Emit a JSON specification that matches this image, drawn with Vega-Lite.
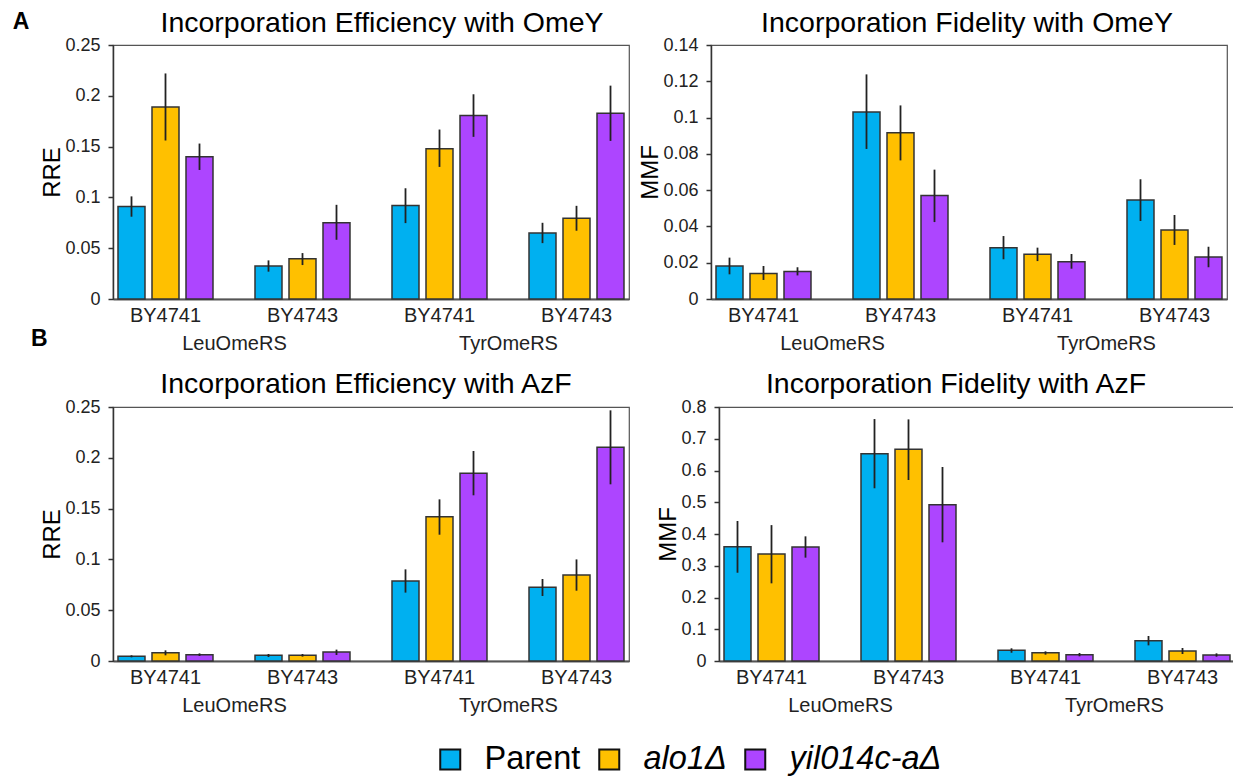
{
  "$schema": "https://vega.github.io/schema/vega-lite/v6.json",
  "background": "white",
  "padding": {"left": 12, "top": 7, "right": 0, "bottom": 0},
  "title": {"text": "A", "orient": "left", "anchor": "end", "angle": 0, "align": "right", "baseline": "top", "fontSize": 23, "fontWeight": "bold", "offset": -15, "dy": -34},
  "datasets": {
    "bars": [
      {"panel":"TL","grp":"LeuOmeRS|BY4741","series":"Parent","value":0.091,"lo":0.081,"hi":0.101},
      {"panel":"TL","grp":"LeuOmeRS|BY4741","series":"alo1Δ","value":0.189,"lo":0.156,"hi":0.222},
      {"panel":"TL","grp":"LeuOmeRS|BY4741","series":"yil014c-aΔ","value":0.140,"lo":0.127,"hi":0.153},
      {"panel":"TL","grp":"LeuOmeRS|BY4743","series":"Parent","value":0.0324,"lo":0.0269,"hi":0.038},
      {"panel":"TL","grp":"LeuOmeRS|BY4743","series":"alo1Δ","value":0.0396,"lo":0.0334,"hi":0.0452},
      {"panel":"TL","grp":"LeuOmeRS|BY4743","series":"yil014c-aΔ","value":0.075,"lo":0.0583,"hi":0.0927},
      {"panel":"TL","grp":"TyrOmeRS|BY4741","series":"Parent","value":0.092,"lo":0.0747,"hi":0.109},
      {"panel":"TL","grp":"TyrOmeRS|BY4741","series":"alo1Δ","value":0.148,"lo":0.130,"hi":0.1668},
      {"panel":"TL","grp":"TyrOmeRS|BY4741","series":"yil014c-aΔ","value":0.1805,"lo":0.1596,"hi":0.2015},
      {"panel":"TL","grp":"TyrOmeRS|BY4743","series":"Parent","value":0.0649,"lo":0.055,"hi":0.075},
      {"panel":"TL","grp":"TyrOmeRS|BY4743","series":"alo1Δ","value":0.0796,"lo":0.0672,"hi":0.0917},
      {"panel":"TL","grp":"TyrOmeRS|BY4743","series":"yil014c-aΔ","value":0.1828,"lo":0.1556,"hi":0.21},

      {"panel":"TR","grp":"LeuOmeRS|BY4741","series":"Parent","value":0.0182,"lo":0.0136,"hi":0.0228},
      {"panel":"TR","grp":"LeuOmeRS|BY4741","series":"alo1Δ","value":0.0141,"lo":0.0105,"hi":0.0182},
      {"panel":"TR","grp":"LeuOmeRS|BY4741","series":"yil014c-aΔ","value":0.0151,"lo":0.013,"hi":0.0175},
      {"panel":"TR","grp":"LeuOmeRS|BY4743","series":"Parent","value":0.1031,"lo":0.0827,"hi":0.1238},
      {"panel":"TR","grp":"LeuOmeRS|BY4743","series":"alo1Δ","value":0.0917,"lo":0.0764,"hi":0.1067},
      {"panel":"TR","grp":"LeuOmeRS|BY4743","series":"yil014c-aΔ","value":0.057,"lo":0.0424,"hi":0.0713},
      {"panel":"TR","grp":"TyrOmeRS|BY4741","series":"Parent","value":0.0283,"lo":0.0219,"hi":0.0347},
      {"panel":"TR","grp":"TyrOmeRS|BY4741","series":"alo1Δ","value":0.0246,"lo":0.0209,"hi":0.0283},
      {"panel":"TR","grp":"TyrOmeRS|BY4741","series":"yil014c-aΔ","value":0.0206,"lo":0.0167,"hi":0.0248},
      {"panel":"TR","grp":"TyrOmeRS|BY4743","series":"Parent","value":0.0546,"lo":0.043,"hi":0.066},
      {"panel":"TR","grp":"TyrOmeRS|BY4743","series":"alo1Δ","value":0.038,"lo":0.0298,"hi":0.0463},
      {"panel":"TR","grp":"TyrOmeRS|BY4743","series":"yil014c-aΔ","value":0.0231,"lo":0.0175,"hi":0.0288},

      {"panel":"BL","grp":"LeuOmeRS|BY4741","series":"Parent","value":0.0046,"lo":0.0036,"hi":0.0056},
      {"panel":"BL","grp":"LeuOmeRS|BY4741","series":"alo1Δ","value":0.0082,"lo":0.0056,"hi":0.0105},
      {"panel":"BL","grp":"LeuOmeRS|BY4741","series":"yil014c-aΔ","value":0.0062,"lo":0.0049,"hi":0.0075},
      {"panel":"BL","grp":"LeuOmeRS|BY4743","series":"Parent","value":0.0056,"lo":0.0039,"hi":0.0069},
      {"panel":"BL","grp":"LeuOmeRS|BY4743","series":"alo1Δ","value":0.0056,"lo":0.0043,"hi":0.0069},
      {"panel":"BL","grp":"LeuOmeRS|BY4743","series":"yil014c-aΔ","value":0.0089,"lo":0.0059,"hi":0.0112},
      {"panel":"BL","grp":"TyrOmeRS|BY4741","series":"Parent","value":0.0787,"lo":0.0673,"hi":0.0902},
      {"panel":"BL","grp":"TyrOmeRS|BY4741","series":"alo1Δ","value":0.142,"lo":0.1243,"hi":0.1591},
      {"panel":"BL","grp":"TyrOmeRS|BY4741","series":"yil014c-aΔ","value":0.1847,"lo":0.1631,"hi":0.2067},
      {"panel":"BL","grp":"TyrOmeRS|BY4743","series":"Parent","value":0.0725,"lo":0.064,"hi":0.0807},
      {"panel":"BL","grp":"TyrOmeRS|BY4743","series":"alo1Δ","value":0.0846,"lo":0.0692,"hi":0.1},
      {"panel":"BL","grp":"TyrOmeRS|BY4743","series":"yil014c-aΔ","value":0.2103,"lo":0.1739,"hi":0.2467},

      {"panel":"BR","grp":"LeuOmeRS|BY4741","series":"Parent","value":0.360,"lo":0.278,"hi":0.441},
      {"panel":"BR","grp":"LeuOmeRS|BY4741","series":"alo1Δ","value":0.337,"lo":0.2446,"hi":0.428},
      {"panel":"BR","grp":"LeuOmeRS|BY4741","series":"yil014c-aΔ","value":0.359,"lo":0.3255,"hi":0.3926},
      {"panel":"BR","grp":"LeuOmeRS|BY4743","series":"Parent","value":0.653,"lo":0.544,"hi":0.762},
      {"panel":"BR","grp":"LeuOmeRS|BY4743","series":"alo1Δ","value":0.6667,"lo":0.570,"hi":0.761},
      {"panel":"BR","grp":"LeuOmeRS|BY4743","series":"yil014c-aΔ","value":0.4924,"lo":0.3738,"hi":0.611},
      {"panel":"BR","grp":"TyrOmeRS|BY4741","series":"Parent","value":0.0336,"lo":0.026,"hi":0.04},
      {"panel":"BR","grp":"TyrOmeRS|BY4741","series":"alo1Δ","value":0.0262,"lo":0.02,"hi":0.0304},
      {"panel":"BR","grp":"TyrOmeRS|BY4741","series":"yil014c-aΔ","value":0.02,"lo":0.0147,"hi":0.0252},
      {"panel":"BR","grp":"TyrOmeRS|BY4743","series":"Parent","value":0.064,"lo":0.0493,"hi":0.0787},
      {"panel":"BR","grp":"TyrOmeRS|BY4743","series":"alo1Δ","value":0.0315,"lo":0.022,"hi":0.041},
      {"panel":"BR","grp":"TyrOmeRS|BY4743","series":"yil014c-aΔ","value":0.0189,"lo":0.0136,"hi":0.0241}
    ],
    "rs": [{"rs": "LeuOmeRS"}, {"rs": "TyrOmeRS"}]
  },
  "vconcat": [
    {
      "title": {"text": "B", "orient": "bottom", "anchor": "start", "frame": "group", "angle": 0, "align": "left", "baseline": "top", "fontSize": 23, "fontWeight": "bold", "offset": 0, "dx": -82, "dy": -26},
      "spacing": 8,
      "hconcat": [
        {
          "width": 516, "height": 254,
          "title": {"text": "Incorporation Efficiency with OmeY", "dx": 11, "offset": -1},
          "layer": [
            {
              "data": {"name": "bars"},
              "transform": [{"filter": "datum.panel === 'TL'"}],
              "encoding": {
                "x": {"field": "grp", "type": "nominal", "scale": {"paddingInner": 0.3066, "paddingOuter": 0.0365}, "axis": {"labelExpr": "split(datum.label, '|')[1]"}},
                "xOffset": {"field": "series", "type": "nominal", "sort": ["Parent", "alo1Δ", "yil014c-aΔ"], "scale": {"paddingInner": 0.206, "paddingOuter": 0}}
              },
              "layer": [
                {
                  "mark": {"type": "bar", "stroke": "#333333", "strokeWidth": 1.5},
                  "encoding": {
                    "y": {"field": "value", "type": "quantitative", "scale": {"domain": [0, 0.25], "nice": false}, "axis": {"title": "RRE", "values": [0, 0.05, 0.1, 0.15, 0.2, 0.25], "format": "~g", "labelOverlap": false}},
                    "color": {"field": "series", "type": "nominal", "scale": {"domain": ["Parent", "alo1Δ", "yil014c-aΔ"], "range": ["#00B0F0", "#FFC000", "#AD45FF"]},
                      "legend": {"title": null, "orient": "none", "legendX": 321, "legendY": 698, "direction": "horizontal", "symbolType": "square", "symbolSize": 400, "symbolStrokeColor": "#111111", "symbolStrokeWidth": 2, "labelFontSize": 32.5, "labelOffset": 18, "columnPadding": 12, "encode": {"labels": {"update": {"fontStyle": {"signal": "datum.value === 'Parent' ? 'normal' : 'italic'"}}}}}}
                  }
                },
                {
                  "mark": {"type": "rule", "color": "#222222", "strokeWidth": 1.8},
                  "encoding": {"y": {"field": "lo", "type": "quantitative", "scale": {"domain": [0, 0.25], "nice": false}, "axis": {"title": "RRE", "values": [0, 0.05, 0.1, 0.15, 0.2, 0.25], "format": "~g", "labelOverlap": false}}, "y2": {"field": "hi"}}
                }
              ]
            },
            {
              "data": {"name": "rs"},
              "mark": {"type": "text", "text": ""},
              "encoding": {"x": {"field": "rs", "type": "nominal", "scale": {"type": "point", "padding": 0.4416}, "axis": {"orient": "bottom", "domain": false, "ticks": false, "labelPadding": 6, "offset": 28}}}
            }
          ],
          "resolve": {"scale": {"x": "independent"}, "axis": {"x": "independent"}}
        },
        {
          "width": 516, "height": 254,
          "title": {"text": "Incorporation Fidelity with OmeY", "dx": -2, "offset": -1},
          "layer": [
            {
              "data": {"name": "bars"},
              "transform": [{"filter": "datum.panel === 'TR'"}],
              "encoding": {
                "x": {"field": "grp", "type": "nominal", "scale": {"paddingInner": 0.3066, "paddingOuter": 0.0365}, "axis": {"labelExpr": "split(datum.label, '|')[1]"}},
                "xOffset": {"field": "series", "type": "nominal", "sort": ["Parent", "alo1Δ", "yil014c-aΔ"], "scale": {"paddingInner": 0.206, "paddingOuter": 0}}
              },
              "layer": [
                {
                  "mark": {"type": "bar", "stroke": "#333333", "strokeWidth": 1.5},
                  "encoding": {
                    "y": {"field": "value", "type": "quantitative", "scale": {"domain": [0, 0.14], "nice": false}, "axis": {"title": "MMF", "values": [0, 0.02, 0.04, 0.06, 0.08, 0.1, 0.12, 0.14], "format": "~g", "labelOverlap": false}},
                    "color": {"field": "series", "type": "nominal", "scale": {"domain": ["Parent", "alo1Δ", "yil014c-aΔ"], "range": ["#00B0F0", "#FFC000", "#AD45FF"]},
                      "legend": {"title": null, "orient": "none", "legendX": 321, "legendY": 698, "direction": "horizontal", "symbolType": "square", "symbolSize": 400, "symbolStrokeColor": "#111111", "symbolStrokeWidth": 2, "labelFontSize": 32.5, "labelOffset": 18, "columnPadding": 12, "encode": {"labels": {"update": {"fontStyle": {"signal": "datum.value === 'Parent' ? 'normal' : 'italic'"}}}}}}
                  }
                },
                {
                  "mark": {"type": "rule", "color": "#222222", "strokeWidth": 1.8},
                  "encoding": {"y": {"field": "lo", "type": "quantitative", "scale": {"domain": [0, 0.14], "nice": false}, "axis": {"title": "MMF", "values": [0, 0.02, 0.04, 0.06, 0.08, 0.1, 0.12, 0.14], "format": "~g", "labelOverlap": false}}, "y2": {"field": "hi"}}
                }
              ]
            },
            {
              "data": {"name": "rs"},
              "mark": {"type": "text", "text": ""},
              "encoding": {"x": {"field": "rs", "type": "nominal", "scale": {"type": "point", "padding": 0.4416}, "axis": {"orient": "bottom", "domain": false, "ticks": false, "labelPadding": 6, "offset": 28}}}
            }
          ],
          "resolve": {"scale": {"x": "independent"}, "axis": {"x": "independent"}}
        }
      ]
    },
    {
      "spacing": 26,
      "hconcat": [
        {
          "width": 516, "height": 254,
          "title": {"text": "Incorporation Efficiency with AzF", "dx": -5, "offset": 0},
          "layer": [
            {
              "data": {"name": "bars"},
              "transform": [{"filter": "datum.panel === 'BL'"}],
              "encoding": {
                "x": {"field": "grp", "type": "nominal", "scale": {"paddingInner": 0.3066, "paddingOuter": 0.0365}, "axis": {"labelExpr": "split(datum.label, '|')[1]"}},
                "xOffset": {"field": "series", "type": "nominal", "sort": ["Parent", "alo1Δ", "yil014c-aΔ"], "scale": {"paddingInner": 0.206, "paddingOuter": 0}}
              },
              "layer": [
                {
                  "mark": {"type": "bar", "stroke": "#333333", "strokeWidth": 1.5},
                  "encoding": {
                    "y": {"field": "value", "type": "quantitative", "scale": {"domain": [0, 0.25], "nice": false}, "axis": {"title": "RRE", "values": [0, 0.05, 0.1, 0.15, 0.2, 0.25], "format": "~g", "labelOverlap": false}},
                    "color": {"field": "series", "type": "nominal", "scale": {"domain": ["Parent", "alo1Δ", "yil014c-aΔ"], "range": ["#00B0F0", "#FFC000", "#AD45FF"]},
                      "legend": {"title": null, "orient": "none", "legendX": 321, "legendY": 698, "direction": "horizontal", "symbolType": "square", "symbolSize": 400, "symbolStrokeColor": "#111111", "symbolStrokeWidth": 2, "labelFontSize": 32.5, "labelOffset": 18, "columnPadding": 12, "encode": {"labels": {"update": {"fontStyle": {"signal": "datum.value === 'Parent' ? 'normal' : 'italic'"}}}}}}
                  }
                },
                {
                  "mark": {"type": "rule", "color": "#222222", "strokeWidth": 1.8},
                  "encoding": {"y": {"field": "lo", "type": "quantitative", "scale": {"domain": [0, 0.25], "nice": false}, "axis": {"title": "RRE", "values": [0, 0.05, 0.1, 0.15, 0.2, 0.25], "format": "~g", "labelOverlap": false}}, "y2": {"field": "hi"}}
                }
              ]
            },
            {
              "data": {"name": "rs"},
              "mark": {"type": "text", "text": ""},
              "encoding": {"x": {"field": "rs", "type": "nominal", "scale": {"type": "point", "padding": 0.4416}, "axis": {"orient": "bottom", "domain": false, "ticks": false, "labelPadding": 6, "offset": 28}}}
            }
          ],
          "resolve": {"scale": {"x": "independent"}, "axis": {"x": "independent"}}
        },
        {
          "width": 516, "height": 254,
          "title": {"text": "Incorporation Fidelity with AzF", "dx": -21, "offset": 0},
          "layer": [
            {
              "data": {"name": "bars"},
              "transform": [{"filter": "datum.panel === 'BR'"}],
              "encoding": {
                "x": {"field": "grp", "type": "nominal", "scale": {"paddingInner": 0.3066, "paddingOuter": 0.0365}, "axis": {"labelExpr": "split(datum.label, '|')[1]"}},
                "xOffset": {"field": "series", "type": "nominal", "sort": ["Parent", "alo1Δ", "yil014c-aΔ"], "scale": {"paddingInner": 0.206, "paddingOuter": 0}}
              },
              "layer": [
                {
                  "mark": {"type": "bar", "stroke": "#333333", "strokeWidth": 1.5},
                  "encoding": {
                    "y": {"field": "value", "type": "quantitative", "scale": {"domain": [0, 0.8], "nice": false}, "axis": {"title": "MMF", "values": [0, 0.1, 0.2, 0.3, 0.4, 0.5, 0.6, 0.7, 0.8], "format": "~g", "labelOverlap": false}},
                    "color": {"field": "series", "type": "nominal", "scale": {"domain": ["Parent", "alo1Δ", "yil014c-aΔ"], "range": ["#00B0F0", "#FFC000", "#AD45FF"]},
                      "legend": {"title": null, "orient": "none", "legendX": 321, "legendY": 698, "direction": "horizontal", "symbolType": "square", "symbolSize": 400, "symbolStrokeColor": "#111111", "symbolStrokeWidth": 2, "labelFontSize": 32.5, "labelOffset": 18, "columnPadding": 12, "encode": {"labels": {"update": {"fontStyle": {"signal": "datum.value === 'Parent' ? 'normal' : 'italic'"}}}}}}
                  }
                },
                {
                  "mark": {"type": "rule", "color": "#222222", "strokeWidth": 1.8},
                  "encoding": {"y": {"field": "lo", "type": "quantitative", "scale": {"domain": [0, 0.8], "nice": false}, "axis": {"title": "MMF", "values": [0, 0.1, 0.2, 0.3, 0.4, 0.5, 0.6, 0.7, 0.8], "format": "~g", "labelOverlap": false}}, "y2": {"field": "hi"}}
                }
              ]
            },
            {
              "data": {"name": "rs"},
              "mark": {"type": "text", "text": ""},
              "encoding": {"x": {"field": "rs", "type": "nominal", "scale": {"type": "point", "padding": 0.4416}, "axis": {"orient": "bottom", "domain": false, "ticks": false, "labelPadding": 6, "offset": 28}}}
            }
          ],
          "resolve": {"scale": {"x": "independent"}, "axis": {"x": "independent"}}
        }
      ]
    }
  ],
  "spacing": 14,
  "config": {
    "font": "Liberation Sans",
    "view": {"stroke": "#555555", "strokeWidth": 1.2},
    "title": {"fontSize": 28.5, "fontWeight": "normal", "color": "#000000", "frame": "group", "baseline": "alphabetic", "offset": 8},
    "axisY": {"domainColor": "#333333", "domainWidth": 1.5, "tickColor": "#333333", "tickSize": 5, "tickWidth": 1.5, "labelFontSize": 18, "labelPadding": 8, "labelColor": "#222222", "labelOverlap": false, "labelFlush": false, "labelBound": false, "titleFontSize": 24, "titleFontWeight": "normal", "titleColor": "#000000", "titlePadding": 0, "grid": false},
    "axisX": {"domainColor": "#555555", "domainWidth": 2, "ticks": false, "labelFontSize": 20, "labelColor": "#222222", "labelPadding": 6, "labelAngle": 0, "title": null, "grid": false},
    "legend": {"labelColor": "#000000", "labelLimit": 400}
  }
}
